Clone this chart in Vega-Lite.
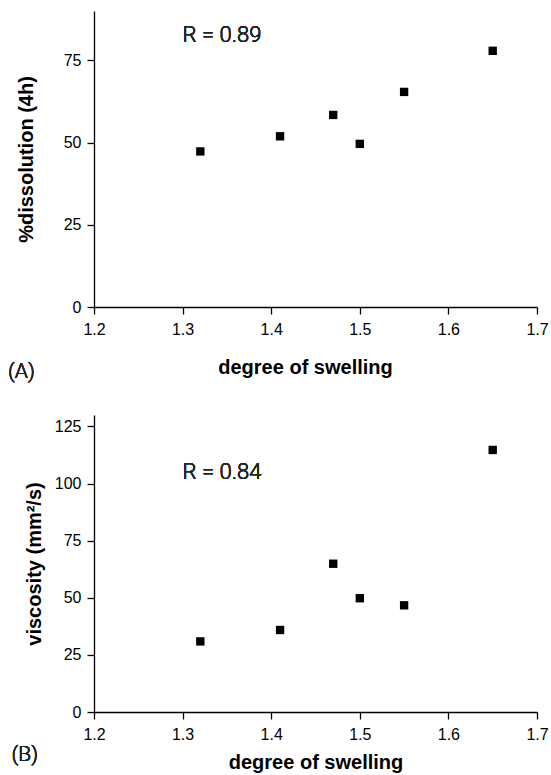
{
  "$schema": "https://vega.github.io/schema/vega-lite/v6.json",
  "background": "white",
  "padding": {"left": 8, "top": 11, "right": 8, "bottom": 4},
  "spacing": 32,
  "config": {
    "view": {"stroke": null},
    "font": "Liberation Sans",
    "axis": {
      "grid": false,
      "domainColor": "#000",
      "domainWidth": 1.3,
      "tickColor": "#000",
      "tickWidth": 1.3,
      "tickSize": 7,
      "labelFontSize": 16,
      "labelColor": "#000",
      "labelFont": "Liberation Sans",
      "labelPadding": 6,
      "titleFont": "Liberation Sans",
      "titleFontSize": 20,
      "titleFontWeight": "bold",
      "titleColor": "#000"
    }
  },
  "datasets": {
    "dissolution": [
      {"swelling": 1.32, "dissolution": 47.3},
      {"swelling": 1.41, "dissolution": 51.9},
      {"swelling": 1.47, "dissolution": 58.4},
      {"swelling": 1.50, "dissolution": 49.6},
      {"swelling": 1.55, "dissolution": 65.4},
      {"swelling": 1.65, "dissolution": 77.9}
    ],
    "viscosity": [
      {"swelling": 1.32, "viscosity": 30.9},
      {"swelling": 1.41, "viscosity": 35.9},
      {"swelling": 1.47, "viscosity": 64.9},
      {"swelling": 1.50, "viscosity": 49.8},
      {"swelling": 1.55, "viscosity": 46.7},
      {"swelling": 1.65, "viscosity": 114.7}
    ]
  },
  "vconcat": [
    {
      "width": 443,
      "height": 296,
      "data": {"name": "dissolution"},
      "layer": [
        {
          "mark": {"type": "square", "filled": true, "color": "#000", "size": 70, "opacity": 1},
          "encoding": {
            "x": {
              "field": "swelling", "type": "quantitative",
              "scale": {"domain": [1.2, 1.7], "nice": false, "zero": false},
              "axis": {"values": [1.2, 1.3, 1.4, 1.5, 1.6, 1.7], "format": ".1f", "title": "degree of swelling", "labelPadding": 7, "titlePadding": 20, "titleX": 211, "labelFlush": false}
            },
            "y": {
              "field": "dissolution", "type": "quantitative",
              "scale": {"domain": [0, 90], "nice": false},
              "axis": {"values": [0, 25, 50, 75], "title": "%dissolution (4h)", "titlePadding": 27}
            }
          }
        },
        {
          "mark": {"type": "text", "text": "R = 0.89", "font": "Roboto", "fontSize": 22, "fontWeight": 300, "align": "left", "baseline": "middle", "color": "#222"},
          "encoding": {
            "x": {"datum": 1.3, "type": "quantitative"},
            "y": {"datum": 82.7, "type": "quantitative"}
          }
        },
        {
          "mark": {"type": "text", "text": "(A)", "font": "Roboto", "fontSize": 21, "fontWeight": 300, "align": "left", "baseline": "middle", "color": "#222"},
          "encoding": {
            "x": {"datum": 1.103, "type": "quantitative"},
            "y": {"datum": -19.8, "type": "quantitative"}
          }
        }
      ]
    },
    {
      "width": 443,
      "height": 297,
      "data": {"name": "viscosity"},
      "layer": [
        {
          "mark": {"type": "square", "filled": true, "color": "#000", "size": 70, "opacity": 1},
          "encoding": {
            "x": {
              "field": "swelling", "type": "quantitative",
              "scale": {"domain": [1.2, 1.7], "nice": false, "zero": false},
              "axis": {"values": [1.2, 1.3, 1.4, 1.5, 1.6, 1.7], "format": ".1f", "title": "degree of swelling", "labelPadding": 7, "titlePadding": 10, "labelFlush": false}
            },
            "y": {
              "field": "viscosity", "type": "quantitative",
              "scale": {"domain": [0, 130], "nice": false},
              "axis": {"values": [0, 25, 50, 75, 100, 125], "title": "viscosity (mm²/s)", "titlePadding": 10}
            }
          }
        },
        {
          "mark": {"type": "text", "text": "R = 0.84", "font": "Roboto", "fontSize": 22, "fontWeight": 300, "align": "left", "baseline": "middle", "color": "#222"},
          "encoding": {
            "x": {"datum": 1.3, "type": "quantitative"},
            "y": {"datum": 104.9, "type": "quantitative"}
          }
        },
        {
          "mark": {"type": "text", "text": "(B)", "font": "Roboto", "fontSize": 21, "fontWeight": 300, "align": "left", "baseline": "middle", "color": "#222"},
          "encoding": {
            "x": {"datum": 1.107, "type": "quantitative"},
            "y": {"datum": -18.9, "type": "quantitative"}
          }
        }
      ]
    }
  ]
}
